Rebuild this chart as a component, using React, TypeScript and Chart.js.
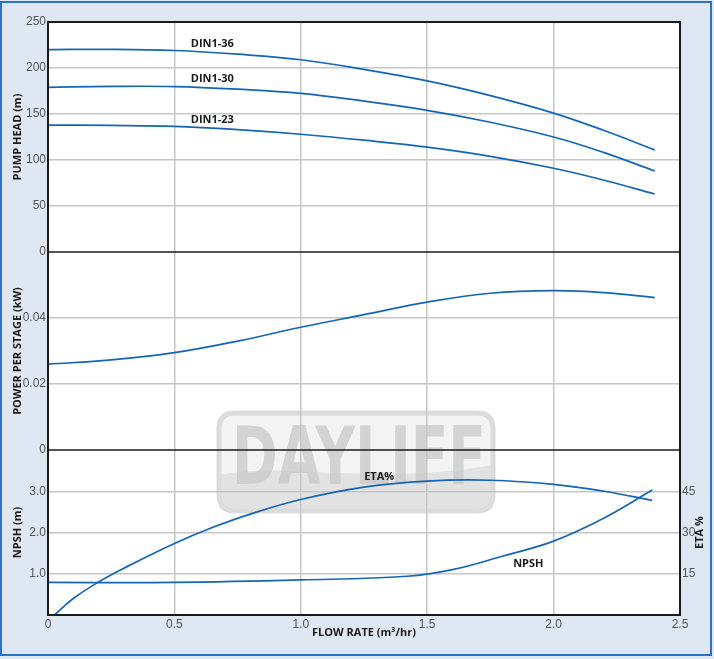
import React, { useEffect, useRef } from 'react';
import { Chart, registerables } from 'chart.js';

Chart.register(...registerables);

// ---- data ----
const flowX = [0, 0.25, 0.5, 0.75, 1.0, 1.25, 1.5, 1.75, 2.0, 2.2, 2.4];
const headDIN136 = [220, 220.3, 219, 215, 209, 198.5, 186, 170, 151, 132, 111];
const headDIN130 = [179, 180, 179.8, 177, 172.5, 164, 154, 141, 125, 108, 88];
const headDIN123 = [138, 137.6, 136.5, 133, 128, 121.5, 114, 104, 91, 78, 63];
const powerPerStage = [0.026, 0.0273, 0.0295, 0.033, 0.0372, 0.041, 0.0448, 0.0475, 0.0483, 0.0477, 0.0462];

const etaX = [0.025, 0.1, 0.2, 0.3, 0.5, 0.65, 0.8, 1.0, 1.25, 1.5, 1.75, 2.0, 2.2, 2.39];
const etaValues = [0, 6, 12, 17, 26, 31.8, 36.7, 42, 46.5, 48.7, 49.0, 47.5, 45, 41.7];

const npshX = [0, 0.5, 1.0, 1.42, 1.6, 1.8, 2.0, 2.2, 2.39];
const npshValues = [0.79, 0.79, 0.85, 0.94, 1.1, 1.43, 1.79, 2.35, 3.03];

const curveNames = ['DIN1-36', 'DIN1-30', 'DIN1-23'];

// text labels anchored in data units
const annotations = [
  { text: 'DIN1-36', x: 0.65, y: 226, axis: 'head' },
  { text: 'DIN1-30', x: 0.65, y: 187.7, axis: 'head' },
  { text: 'DIN1-23', x: 0.65, y: 143.5, axis: 'head' },
  { text: 'ETA%', x: 1.31, y: 50.4, axis: 'eta' },
  { text: 'NPSH', x: 1.9, y: 1.25, axis: 'npsh' },
];

const xTitle = 'FLOW RATE (m³/hr)';
const headTitle = 'PUMP HEAD (m)';
const powerTitle = 'POWER PER STAGE (kW)';
const npshTitle = 'NPSH (m)';
const etaTitle = 'ETA %';

// ---- styles ----
const LINE = '#1565b5';
const GRID = '#c6c6c6';
const TICK_COLOR = '#555';
const TEXT = '#1a1a1a';
const TICK_FONT = { family: '"Liberation Sans", Arial, sans-serif', size: 12 };
const BOLD_FONT = { family: '"Open Sans", sans-serif', size: 11, weight: 'bold' as const };

const pts = (xs: number[], ys: number[]) => xs.map((x, i) => ({ x, y: ys[i] }));

const gridColor = (c: any) =>
  c.index === 0 || c.index === c.scale.ticks.length - 1 ? 'rgba(0,0,0,0)' : GRID;

function roundRectPath(ctx: CanvasRenderingContext2D, x: number, y: number, w: number, h: number, r: number) {
  ctx.beginPath();
  ctx.moveTo(x + r, y);
  ctx.lineTo(x + w - r, y);
  ctx.quadraticCurveTo(x + w, y, x + w, y + r);
  ctx.lineTo(x + w, y + h - r);
  ctx.quadraticCurveTo(x + w, y + h, x + w - r, y + h);
  ctx.lineTo(x + r, y + h);
  ctx.quadraticCurveTo(x, y + h, x, y + h - r);
  ctx.lineTo(x, y + r);
  ctx.quadraticCurveTo(x, y, x + r, y);
  ctx.closePath();
}

function drawWatermark(ctx: CanvasRenderingContext2D) {
  const x = 219, y = 413, w = 274, h = 98, r = 16;
  ctx.save();
  roundRectPath(ctx, x, y, w, h, r);
  ctx.fillStyle = '#f3f3f3';
  ctx.fill();
  ctx.save();
  ctx.clip();
  // lower wave band
  ctx.beginPath();
  ctx.moveTo(x, y + 62);
  ctx.bezierCurveTo(x + 70, y + 48, x + 150, y + 74, x + w, y + 52);
  ctx.lineTo(x + w, y + h);
  ctx.lineTo(x, y + h);
  ctx.closePath();
  ctx.fillStyle = '#e2e2e2';
  ctx.fill();
  // letters
  ctx.font = 'bold 80px "DejaVu Sans", sans-serif';
  const m = ctx.measureText('DAYLIFF').width;
  const sx = 254 / m;
  ctx.translate(x + 13, y + 71);
  ctx.scale(sx, 1);
  ctx.fillStyle = 'rgba(200,200,200,0.75)';
  ctx.textBaseline = 'alphabetic';
  ctx.textAlign = 'left';
  ctx.fillText('DAYLIFF', 0, 0);
  ctx.restore();
  roundRectPath(ctx, x, y, w, h, r);
  ctx.lineWidth = 5;
  ctx.strokeStyle = '#dcdcdc';
  ctx.stroke();
  ctx.restore();
}

const decorPlugin = {
  id: 'decor',
  beforeDraw(chart: any) {
    const { ctx, chartArea: a } = chart;
    ctx.save();
    ctx.fillStyle = '#ffffff';
    ctx.fillRect(a.left, a.top, a.right - a.left, a.bottom - a.top);
    ctx.restore();
    drawWatermark(ctx);
  },
  afterDatasetsDraw(chart: any) {
    const { ctx, chartArea: a, scales } = chart;
    ctx.save();
    // separators
    ctx.strokeStyle = '#1a1a1a';
    ctx.lineWidth = 1.5;
    [scales.head.bottom, scales.power.bottom].forEach((yy: number) => {
      ctx.beginPath();
      ctx.moveTo(a.left, yy);
      ctx.lineTo(a.right, yy);
      ctx.stroke();
    });
    // frame
    ctx.lineWidth = 2;
    ctx.strokeRect(a.left, a.top, a.right - a.left, a.bottom - a.top);
    // curve labels
    ctx.font = `bold ${BOLD_FONT.size}px ${BOLD_FONT.family}`;
    ctx.fillStyle = TEXT;
    ctx.textAlign = 'center';
    ctx.textBaseline = 'middle';
    annotations.forEach((an) => {
      const px = scales.x.getPixelForValue(an.x);
      const py = scales[an.axis].getPixelForValue(an.y);
      ctx.fillText(an.text, px, py);
    });
    // ETA axis title (reads bottom-to-top)
    const e = scales.eta;
    ctx.translate(e.left + 20, (e.top + e.bottom) / 2);
    ctx.rotate(-Math.PI / 2);
    ctx.fillText(etaTitle, 0, 0);
    ctx.restore();
  },
};

export default function App() {
  const ref = useRef<HTMLCanvasElement | null>(null);

  useEffect(() => {
    if (!ref.current) return;
    const lineDs = (label: string, data: any[], axis: string) => ({
      label,
      data,
      yAxisID: axis,
      borderColor: LINE,
      backgroundColor: LINE,
      borderWidth: 1.7,
      pointRadius: 0,
      fill: false,
      tension: 0.4,
    });

    const leftAxis = (min: number, max: number, step: number, weight: number, stackWeight: number, title: string, cb: any) => ({
      type: 'linear' as const,
      position: 'left' as const,
      stack: 'L',
      stackWeight,
      weight,
      min,
      max,
      border: { display: false },
      grid: { drawTicks: false, color: gridColor, lineWidth: 1.5 },
      ticks: { stepSize: step, padding: 2, color: TICK_COLOR, font: TICK_FONT, callback: cb, autoSkip: false },
      title: { display: true, text: title, color: TEXT, font: BOLD_FONT, padding: { top: 11.4, bottom: 0 } },
      afterFit: (s: any) => { s.width = 48; },
    });

    const hiddenRight = (weight: number, stackWeight: number) => ({
      type: 'linear' as const,
      position: 'right' as const,
      stack: 'R',
      stackWeight,
      weight,
      min: 0,
      max: 1,
      display: false,
    });

    const chart = new Chart(ref.current, {
      type: 'line',
      data: {
        datasets: [
          lineDs(curveNames[0], pts(flowX, headDIN136), 'head'),
          lineDs(curveNames[1], pts(flowX, headDIN130), 'head'),
          lineDs(curveNames[2], pts(flowX, headDIN123), 'head'),
          lineDs('Power per stage', pts(flowX, powerPerStage), 'power'),
          lineDs('ETA %', pts(etaX, etaValues), 'eta'),
          lineDs('NPSH', pts(npshX, npshValues), 'npsh'),
        ],
      },
      options: {
        responsive: false,
        animation: false,
        events: [],
        layout: { padding: { top: 22, left: 0, right: 0, bottom: 0 } },
        plugins: { legend: { display: false }, tooltip: { enabled: false } },
        scales: {
          x: {
            type: 'linear',
            position: 'bottom',
            min: 0,
            max: 2.5,
            border: { display: false },
            grid: { drawTicks: false, color: gridColor, lineWidth: 1.5 },
            ticks: {
              stepSize: 0.5,
              padding: 2,
              color: TICK_COLOR,
              font: TICK_FONT,
              callback: (v: any) => (v === 0 ? '0' : Number(v).toFixed(1)),
            },
            title: { display: true, text: xTitle, color: TEXT, font: BOLD_FONT, padding: { top: 0, bottom: 19.4 } },
            afterFit: (s: any) => { s.height = 44; },
          },
          head: leftAxis(0, 250, 50, 3, 230, headTitle, (v: any) => String(v)),
          power: leftAxis(0, 0.06, 0.02, 2, 198, powerTitle, (v: any, i: number, t: any[]) =>
            i === t.length - 1 ? '' : v === 0 ? '0' : Number(v).toFixed(2)),
          npsh: leftAxis(0, 4, 1, 1, 165, npshTitle, (v: any, i: number, t: any[]) =>
            i === 0 || i === t.length - 1 ? '' : Number(v).toFixed(1)),
          r1: hiddenRight(1, 230),
          r2: hiddenRight(2, 198),
          eta: {
            type: 'linear',
            position: 'right',
            stack: 'R',
            stackWeight: 165,
            weight: 3,
            min: 0,
            max: 60,
            border: { display: false },
            grid: { display: false, drawTicks: false },
            ticks: {
              stepSize: 15,
              padding: 2,
              color: TICK_COLOR,
              font: TICK_FONT,
              autoSkip: false,
              callback: (v: any, i: number, t: any[]) => (i === 0 || i === t.length - 1 ? '' : String(v)),
            },
            afterFit: (s: any) => { s.width = 34; },
          },
        },
      } as any,
      plugins: [decorPlugin],
    });
    return () => chart.destroy();
  }, []);

  return (
    <div style={{ position: 'fixed', left: 0, top: 0, width: 714, height: 659, background: '#dfe7f3' }}>
      <div
        style={{
          position: 'absolute',
          left: 0,
          top: 1,
          width: 712,
          height: 655,
          boxSizing: 'border-box',
          border: '2px solid #2a72c4',
        }}
      />
      <canvas ref={ref} width={714} height={659} style={{ position: 'absolute', left: 0, top: 0 }} />
    </div>
  );
}
